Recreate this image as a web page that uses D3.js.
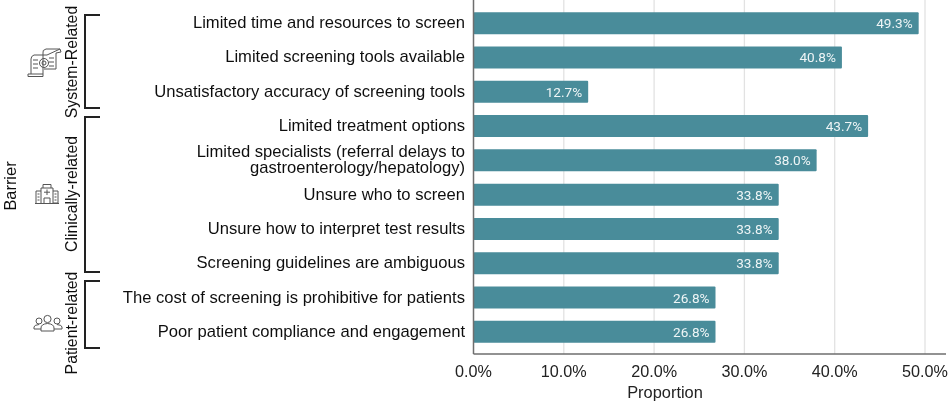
<!DOCTYPE html>
<html><head><meta charset="utf-8">
<script src="https://cdn.jsdelivr.net/npm/d3@7"></script>
<style>html,body{margin:0;padding:0;background:#fff}svg{display:block;font-family:"Liberation Sans",Arial,sans-serif}</style>
</head><body><svg id="c" width="950" height="404"></svg>
<script>
const categories = [
  "Limited time and resources to screen",
  "Limited screening tools available",
  "Unsatisfactory accuracy of screening tools",
  "Limited treatment options",
  "Limited specialists (referral delays to|gastroenterology/hepatology)",
  "Unsure who to screen",
  "Unsure how to interpret test results",
  "Screening guidelines are ambiguous",
  "The cost of screening is prohibitive for patients",
  "Poor patient compliance and engagement"
];
const values = [49.3, 40.8, 12.7, 43.7, 38.0, 33.8, 33.8, 33.8, 26.8, 26.8];
const xTicks = [0, 10, 20, 30, 40, 50];
const groups = ["System-Related", "Clinically-related", "Patient-related"];

const svgRoot = d3.select("#c");
svgRoot.append("defs").append("filter").attr("id", "soft")
  .attr("x", 0).attr("y", 0).attr("width", 1).attr("height", 1)
  .attr("filterUnits", "objectBoundingBox")
  .append("feGaussianBlur").attr("stdDeviation", 0.4);
svgRoot.append("rect").attr("width", 950).attr("height", 404).attr("fill", "#fff");
const svg = svgRoot.append("g").attr("filter", "url(#soft)");
svg.append("rect").attr("width", 950).attr("height", 404).attr("fill", "#fff");

const x = d3.scaleLinear().domain([0, 50]).range([473.5, 925]);
const y = d3.scaleBand().domain(d3.range(categories.length)).range([6, 349]).paddingInner(0.36).paddingOuter(0.18);

// gridlines
svg.append("g").selectAll("line").data(xTicks.slice(1)).join("line")
  .attr("x1", d => x(d)).attr("x2", d => x(d)).attr("y1", 0).attr("y2", 354)
  .attr("stroke", "#e2e2e2").attr("stroke-width", 1.3);

// bars
svg.append("g").selectAll("rect").data(values).join("rect")
  .attr("x", x(0)).attr("y", (d, i) => y(i))
  .attr("width", d => x(d) - x(0)).attr("height", y.bandwidth())
  .attr("rx", 1).attr("fill", "#4a8c9a");

// value labels
svg.append("g").selectAll("text").data(values).join("text")
  .attr("x", d => x(d) - 6).attr("y", (d, i) => y(i) + y.bandwidth() / 2 + 5)
  .attr("text-anchor", "end").attr("fill", "#eef5f6")
  .style("font-family", "Roboto,sans-serif").style("font-size", "13.6px")
  .text(d => d.toFixed(1) + "%");

// category labels
const labels = svg.append("g").selectAll("text").data(categories).join("text")
  .attr("text-anchor", "end").attr("fill", "#111").style("font-size", "16.6px");
labels.each(function (d, i) {
  const parts = d.split("|");
  const cy = y(i) + y.bandwidth() / 2;
  d3.select(this).selectAll("tspan").data(parts).join("tspan")
    .attr("x", 465)
    .attr("y", (p, k) => cy + 5 + (k - (parts.length - 1) / 2) * 16)
    .text(p => p);
});

// axis lines
svg.append("line").attr("x1", x(0)).attr("x2", x(0)).attr("y1", 0).attr("y2", 354).attr("stroke", "#6e6e6e").attr("stroke-width", 1.5);
svg.append("line").attr("x1", x(0)).attr("x2", 946).attr("y1", 354).attr("y2", 354).attr("stroke", "#6e6e6e").attr("stroke-width", 1.5);

// x tick labels
svg.append("g").selectAll("text").data(xTicks).join("text")
  .attr("x", d => x(d)).attr("y", 377).attr("text-anchor", "middle")
  .attr("fill", "#222").style("font-size", "16.2px").text(d => d.toFixed(1) + "%");
svg.append("text").attr("x", 665).attr("y", 398).attr("text-anchor", "middle")
  .attr("fill", "#222").style("font-size", "16.4px").text("Proportion");

// y title
svg.append("text").attr("transform", "translate(16,186) rotate(-90)").attr("text-anchor", "middle")
  .attr("fill", "#111").style("font-size", "16.4px").text("Barrier");

// group labels and brackets
const groupCy = [62, 194, 323];
groups.forEach((g, i) => {
  svg.append("text").attr("transform", `translate(77,${groupCy[i]}) rotate(-90)`)
    .attr("text-anchor", "middle").attr("fill", "#111").style("font-size", "15.8px").text(g);
});
const brackets = [[15, 108], [117, 272], [281, 348]];
svg.append("g").selectAll("path").data(brackets).join("path")
  .attr("d", d => `M100,${d[0]}H85V${d[1]}H100`)
  .attr("fill", "none").attr("stroke", "#222").attr("stroke-width", 2);

// icons
const ic = svg.append("g").attr("fill", "none").attr("stroke", "#555").attr("stroke-width", 1);
// scroll / gear
ic.append("path").attr("d", "M34,55H47M60,49H46Q42,50 43,53V56M34,55Q31,56 31,59V74M31,74H28V76.5H43V74H31M43,74V56M47,55L60,49L61,52L56,53V69H44");
ic.append("circle").attr("cx", 44).attr("cy", 63).attr("r", 4.5);
ic.append("circle").attr("cx", 44).attr("cy", 63).attr("r", 2);
ic.append("path").attr("d", "M33,60H38M33,64H38M33,68H38M49,58H54M49,62H54M49,66H54");
// hospital
ic.append("path").attr("d", "M41,203V188H53V203M36,203V191H41M53,191H58V203H53M35,203.5H59M43,188V184.5H51V188");
ic.append("path").attr("d", "M47,189.5V195M44,192.2H50M44,198H50V203M44,198V203M37.5,194H39.5M37.5,197H39.5M37.5,200H39.5M54.5,194H56.5M54.5,197H56.5M54.5,200H56.5");
// people
ic.append("circle").attr("cx", 47.5).attr("cy", 319).attr("r", 3.6);
ic.append("circle").attr("cx", 39).attr("cy", 321).attr("r", 3);
ic.append("circle").attr("cx", 57).attr("cy", 321).attr("r", 3);
ic.append("path").attr("d", "M41,331V328Q41,324 47.5,323.5Q54,324 54,328V331ZM41,329H34V327Q34,325 39,324.5M54,329H62V327Q62,325 57,324.5");
</script></body></html>
